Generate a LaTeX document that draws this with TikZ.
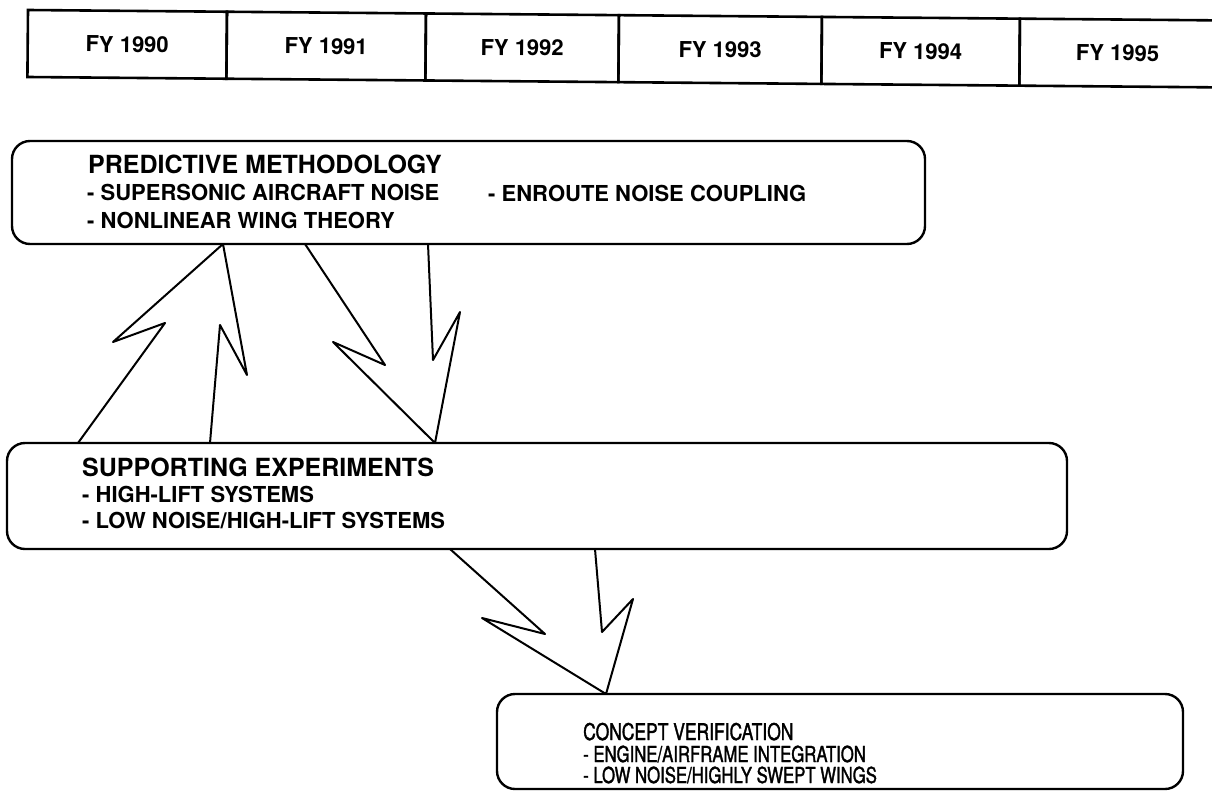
\documentclass[tikz,border=0pt]{standalone}
\usepackage{fontspec}
\setmainfont{TeX Gyre Heros}
\newfontfamily\condfont[FakeStretch=0.76,FakeBold=1.5]{TeX Gyre Heros}
\usetikzlibrary{calc}
\begin{document}
\begin{tikzpicture}[x=1pt,y=-1pt,
  cell/.style={draw, line width=2.6pt, minimum height=67pt, inner sep=0pt, outer sep=0pt,
    anchor=north west, font=\fontsize{22}{26}\selectfont\bfseries, transform shape},
  rbox/.style={draw, line width=2.4pt, rounded corners=18pt, inner sep=0pt, outer sep=0pt, anchor=north west},
  ttl/.style={anchor=base west, inner sep=0pt, font=\fontsize{25}{30}\selectfont\bfseries},
  itm/.style={anchor=base west, inner sep=0pt, font=\fontsize{22}{26}\selectfont\bfseries},
  cttl/.style={anchor=base west, inner sep=0pt, font=\fontsize{23}{27}\condfont},
  citm/.style={anchor=base west, inner sep=0pt, font=\fontsize{22}{26}\condfont},
  arr/.style={draw, line width=2pt, line join=round, line cap=round}]
\useasboundingbox (0,0) rectangle (1212,792);
\fill[white] (0,0) rectangle (1212,792);

% timeline bar
\begin{scope}[shift={(28,10)}, rotate=-0.5]
\node[cell, minimum width=199pt] (fy90) at (0,0) {FY 1990};
\node[cell, minimum width=199pt] (fy91) at (199,0) {FY 1991};
\node[cell, minimum width=193pt] (fy92) at (398,0) {FY 1992};
\node[cell, minimum width=203pt] (fy93) at (591,0) {FY 1993};
\node[cell, minimum width=198pt] (fy94) at (794,0) {FY 1994};
\node[cell, minimum width=196pt] (fy95) at (992,0) {FY 1995};
\end{scope}

% predictive methodology
\node[rbox, minimum width=913pt, minimum height=103pt] (pm) at (12,141) {};
\node[ttl] (pmt) at (88,173) {PREDICTIVE METHODOLOGY};
\node[itm] (pm1) at (87,200) {- SUPERSONIC AIRCRAFT NOISE};
\node[itm] (pm2) at (87,228) {- NONLINEAR WING THEORY};
\node[itm] (pm3) at (488,201) {- ENROUTE NOISE COUPLING};

% supporting experiments
\node[rbox, minimum width=1060pt, minimum height=106pt] (se) at (7,443) {};
\node[ttl] (set) at (82,476) {SUPPORTING EXPERIMENTS};
\node[itm] (se1) at (82,502) {- HIGH-LIFT SYSTEMS};
\node[itm] (se2) at (82,528) {- LOW NOISE/HIGH-LIFT SYSTEMS};

% concept verification
\node[rbox, minimum width=686pt, minimum height=95pt] (cv) at (497,694) {};
\node[cttl] (cvt) at (583,740) {CONCEPT VERIFICATION};
\node[citm] (cv1) at (583,762) {- ENGINE/AIRFRAME INTEGRATION};
\node[citm] (cv2) at (583,783) {- LOW NOISE/HIGHLY SWEPT WINGS};

% arrows
\draw[arr] (78,0 |- se.north) -- (165,323) -- (113,342) -- (223,0 |- pm.south)
  -- (247,375) -- (220,325) -- (210,0 |- se.north);
\draw[arr] (305,0 |- pm.south) -- (385,365) -- (333,342) -- (435,0 |- se.north)
  -- (460,312) -- (433,360) -- (428,0 |- pm.south);
\draw[arr] (450,0 |- se.south) -- (545,634) -- (482,618) -- (606,0 |- cv.north)
  -- (633,599) -- (602,632) -- (595,0 |- se.south);
\end{tikzpicture}
\end{document}
